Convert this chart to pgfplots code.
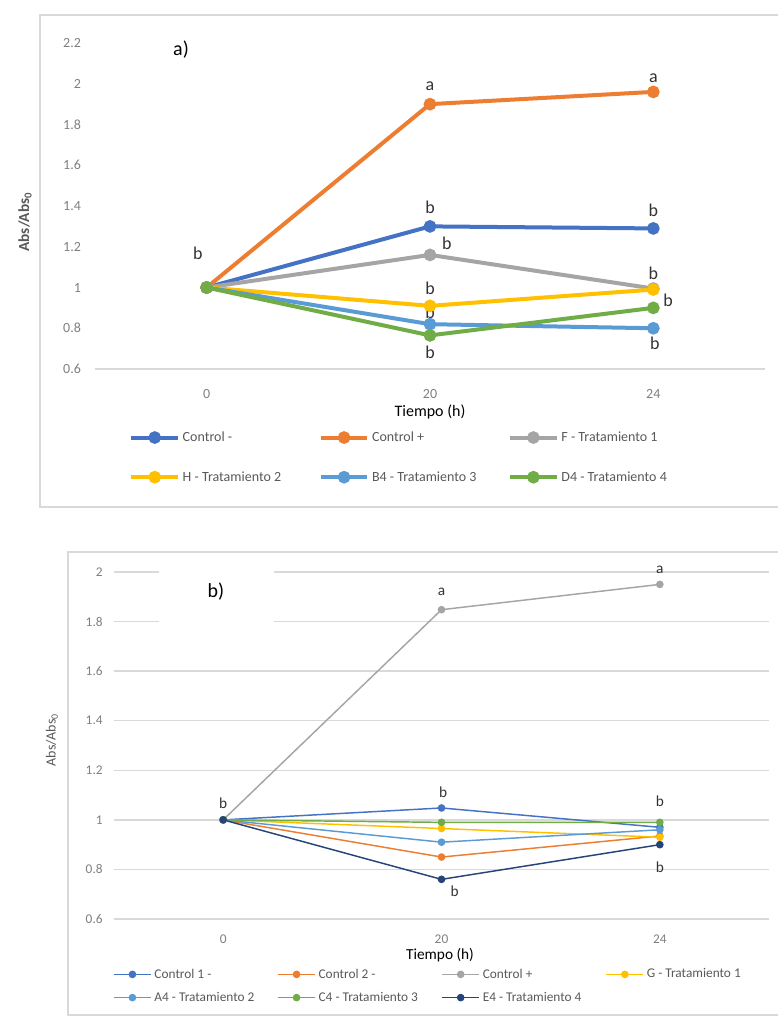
\documentclass[border=0pt]{standalone}
\usepackage{pgfplots}
\pgfplotsset{compat=1.18}
\usepackage{fontspec}
\setmainfont{Carlito}
\definecolor{c1}{HTML}{4472C4}
\definecolor{c2}{HTML}{ED7D31}
\definecolor{c3}{HTML}{A5A5A5}
\definecolor{c4}{HTML}{FFC000}
\definecolor{c5}{HTML}{5B9BD5}
\definecolor{c6}{HTML}{70AD47}
\definecolor{c7}{HTML}{264478}
\definecolor{gridc}{HTML}{D9D9D9}
\definecolor{tickc}{HTML}{7F7F7F}
\definecolor{legc}{HTML}{595959}
\begin{document}
\begin{tikzpicture}[x=0.75pt,y=-0.75pt]
\path[use as bounding box] (0,0) rectangle (778,1026);
% frames
\draw[gridc,line width=1pt] (778,15) -- (40,15) -- (40,507) -- (778,507);
\draw[gridc,line width=1pt] (778,552) -- (68,552) -- (68,1015) -- (778,1015);
% ---------------- panel a
\begin{axis}[
  at={(71.25pt,-276.75pt)}, anchor=south west, scale only axis,
  width=502.5pt, height=244.5pt,
  xmin=-0.5, xmax=2.5, ymin=0.6, ymax=2.2,
  xtick={0,1,2}, xticklabels={0,20,24},
  ytick={0.6,0.8,1,1.2,1.4,1.6,1.8,2,2.2},
  yticklabels={0.6,0.8,1,1.2,1.4,1.6,1.8,2,2.2},
  axis lines*=left,
  y axis line style={draw=none},
  x axis line style={draw=gridc,line width=1pt,-},
  major tick length=0pt, tick style={draw=none},
  ticklabel style={font=\fontsize{10.5}{12}\selectfont, text=tickc},
  yticklabel style={xshift=-7pt},
  xticklabel style={yshift=-12pt},
  clip=false,
  every axis plot/.append style={line width=3pt, mark=*, mark size=3.2pt, mark options={solid}},
  legend columns=3,
  legend cell align=left,
  legend image code/.code={\draw[mark repeat=2,mark phase=2,#1] plot coordinates {(0pt,0pt) (17.5pt,0pt) (35pt,0pt)};},
  legend style={draw=none, fill=none, at={(0.045,-0.271)}, anchor=west,
    font=\fontsize{10.5}{12}\selectfont, text=legc, row sep=17pt,
    /tikz/every even column/.append style={column sep=0pt}},
]
\addplot[c1] coordinates {(0,1) (1,1.30) (2,1.29)};
\addlegendentry{\makebox[100pt][l]{Control -}}
\addplot[c2] coordinates {(0,1) (1,1.90) (2,1.96)};
\addlegendentry{\makebox[100pt][l]{Control +}}
\addplot[c3] coordinates {(0,1) (1,1.16) (2,0.995)};
\addlegendentry{\makebox[100pt][l]{F - Tratamiento 1}}
\addplot[c4] coordinates {(0,1) (1,0.91) (2,0.99)};
\addlegendentry{\makebox[100pt][l]{H - Tratamiento 2}}
\addplot[c5] coordinates {(0,1) (1,0.82) (2,0.80)};
\addlegendentry{\makebox[100pt][l]{B4 - Tratamiento 3}}
\addplot[c6] coordinates {(0,1) (1,0.765) (2,0.90)};
\addlegendentry{\makebox[100pt][l]{D4 - Tratamiento 4}}
\begin{scope}[every node/.style={font=\fontsize{13.5}{15}\selectfont, text=black!80}]
\node at (axis cs:-0.04,1.17) {b};
\node at (axis cs:1,1.99) {a};
\node at (axis cs:1,1.395) {b};
\node at (axis cs:1.076,1.218) {b};
\node at (axis cs:1,0.998) {b};
\node at (axis cs:1,0.88) {b};
\node at (axis cs:1,0.683) {b};
\node at (axis cs:2,2.028) {a};
\node at (axis cs:2,1.38) {b};
\node at (axis cs:2,1.071) {b};
\node at (axis cs:2.066,0.939) {b};
\node at (axis cs:2.007,0.728) {b};
\end{scope}
\end{axis}
\node[font=\fontsize{15}{18}\selectfont] at (181,50) {a)};
\node[font=\fontsize{12}{14}\selectfont] at (430,412) {Tiempo (h)};
\node[rotate=90, font=\fontsize{11.5}{14}\selectfont\bfseries, text=legc] at (25,222) {Abs/Abs\textsubscript{0}};
% ---------------- panel b
\begin{axis}[
  at={(85.5pt,-689.25pt)}, anchor=south west, scale only axis,
  width=491.25pt, height=260.25pt,
  xmin=-0.5, xmax=2.5, ymin=0.6, ymax=2,
  xtick={0,1,2}, xticklabels={0,20,24},
  ytick={0.6,0.8,1,1.2,1.4,1.6,1.8,2},
  yticklabels={0.6,0.8,1,1.2,1.4,1.6,1.8,2},
  axis line style={draw=none},
  ymajorgrids, grid style={gridc, line width=1pt},
  major tick length=0pt, tick style={draw=none},
  ticklabel style={font=\fontsize{10}{11}\selectfont, text=tickc},
  yticklabel style={xshift=-5pt},
  xticklabel style={yshift=-8pt},
  clip=false,
  every axis plot/.append style={line width=1.1pt, mark=*, mark size=2.3pt, mark options={solid}},
  legend columns=4,
  legend cell align=left,
  legend image code/.code={\draw[mark repeat=2,mark phase=2,#1] plot coordinates {(0pt,0pt) (14pt,0pt) (28pt,0pt)};},
  legend style={draw=none, fill=none, at={(-0.008,-0.193)}, anchor=west,
    font=\fontsize{10}{11}\selectfont, text=legc, row sep=5pt,
    /tikz/every even column/.append style={column sep=0pt}},
]
\addplot[c1] coordinates {(0,1) (1,1.048) (2,0.97)};
\addlegendentry{\makebox[90pt][l]{Control 1 -}}
\addplot[c2] coordinates {(0,1) (1,0.85) (2,0.935)};
\addlegendentry{\makebox[90pt][l]{Control 2 -}}
\addplot[c3] coordinates {(0,1) (1,1.848) (2,1.95)};
\addlegendentry{\makebox[90pt][l]{Control +}}
\addplot[c4] coordinates {(0,1) (1,0.965) (2,0.93)};
\addlegendentry{\makebox[90pt][l]{G - Tratamiento 1}}
\addplot[c5] coordinates {(0,1) (1,0.91) (2,0.96)};
\addlegendentry{\makebox[90pt][l]{A4 - Tratamiento 2}}
\addplot[c6] coordinates {(0,1) (1,0.99) (2,0.99)};
\addlegendentry{\makebox[90pt][l]{C4 - Tratamiento 3}}
\addplot[c7] coordinates {(0,1) (1,0.76) (2,0.90)};
\addlegendentry{\makebox[90pt][l]{E4 - Tratamiento 4}}
\begin{scope}[every node/.style={font=\fontsize{11.5}{13}\selectfont, text=black!80}]
\node at (axis cs:0,1.068) {b};
\node at (axis cs:1.007,1.112) {b};
\node at (axis cs:1,1.919) {a};
\node at (axis cs:1.06,0.713) {b};
\node at (axis cs:2,2.008) {a};
\node at (axis cs:2,1.076) {b};
\node at (axis cs:2,0.81) {b};
\end{scope}
\end{axis}
\fill[white] (159,563) rectangle (274,628);
\node[font=\fontsize{15}{18}\selectfont] at (216,592) {b)};
\node[font=\fontsize{11.5}{13}\selectfont] at (440,955) {Tiempo (h)};
\node[rotate=90, font=\fontsize{10.5}{12}\selectfont, text=legc] at (52,740) {Abs/Abs\textsubscript{0}};
\end{tikzpicture}
\end{document}
